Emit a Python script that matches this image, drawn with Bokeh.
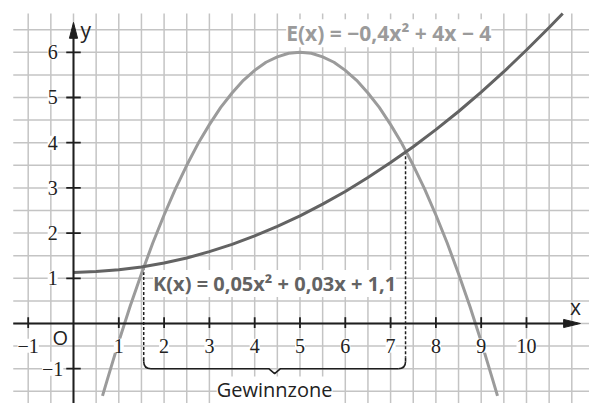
import numpy as np
from bokeh.plotting import figure
from bokeh.models import ColumnDataSource, LabelSet, Label
from bokeh.embed import file_html
from bokeh.resources import INLINE

# ---- data ----
E_X = [0.64, 0.75, 1.0, 1.25, 1.5, 1.75, 2.0, 2.25, 2.5, 2.75, 3.0, 3.25, 3.5, 3.75, 4.0, 4.25, 4.5, 4.75,
       5.0, 5.25, 5.5, 5.75, 6.0, 6.25, 6.5, 6.75, 7.0, 7.25, 7.5, 7.75, 8.0, 8.25, 8.5, 8.75, 9.0, 9.25, 9.36]
E_Y = [-1.60, -1.23, -0.40, 0.38, 1.10, 1.78, 2.40, 2.98, 3.50, 3.98, 4.40, 4.78, 5.10, 5.38, 5.60, 5.78, 5.90, 5.98,
       6.00, 5.98, 5.90, 5.78, 5.60, 5.38, 5.10, 4.78, 4.40, 3.98, 3.50, 2.98, 2.40, 1.78, 1.10, 0.38, -0.40, -1.23, -1.60]
K_X = [0.0, 0.5, 1.0, 1.5, 2.0, 2.5, 3.0, 3.5, 4.0, 4.5, 5.0, 5.5, 6.0, 6.5, 7.0, 7.5, 8.0, 8.5, 9.0, 9.5, 10.0, 10.5, 10.8]
K_Y = [1.13, 1.15, 1.19, 1.25, 1.34, 1.45, 1.59, 1.75, 1.94, 2.15, 2.38, 2.64, 2.92, 3.23, 3.56, 3.91, 4.29, 4.69, 5.12, 5.57, 6.05, 6.55, 6.86]
BREAK_X = [1.55, 7.33]
BREAK_Y = [1.25, 3.81]
X_TICKS = [-1, 1, 2, 3, 4, 5, 6, 7, 8, 9, 10]
X_LABELS = ["\u22121", "1", "2", "3", "4", "5", "6", "7", "8", "9", "10"]
Y_TICKS = [-1, 1, 2, 3, 4, 5, 6]
Y_LABELS = ["\u22121", "1", "2", "3", "4", "5", "6"]
E_TEXT = "E(x) = \u22120,4x\u00b2 + 4x \u2212 4"
K_TEXT = "K(x) = 0,05x\u00b2 + 0,03x + 1,1"
ZONE_TEXT = "Gewinnzone"

FONT = "Open Sans"
GRID_C = "#c4c4c4"
AXIS_C = "#1e1e1e"
E_C = "#9b9b9b"
K_C = "#636363"

p = figure(width=589, height=403, x_range=(-1.6115, 11.391), y_range=(-1.770, 7.146),
           output_backend="svg", toolbar_location=None, x_axis_type=None, y_axis_type=None,
           min_border=0, outline_line_color=None, background_fill_color="white")
p.grid.visible = False

# grid (0.5 units)
gx = np.arange(-1.0, 11.01, 0.5)
gy = np.arange(-1.5, 6.51, 0.5)
p.segment(x0=gx, y0=-1.8, x1=gx, y1=6.86, line_color=GRID_C, line_width=1.5)
p.segment(x0=-1.33, y0=gy, x1=11.4, y1=gy, line_color=GRID_C, line_width=1.5)

# dashed verticals to bracket
p.segment(x0=BREAK_X, y0=BREAK_Y, x1=BREAK_X, y1=-0.76, line_color=AXIS_C,
          line_width=1.5, line_dash="3 2")

# bracket
xl, xr = BREAK_X
xm = (xl + xr) / 2
yb = -1.0
r = 0.16
p.segment(x0=[xl, xr], y0=[-0.76, -0.76], x1=[xl, xr], y1=[yb + r, yb + r], line_color=AXIS_C, line_width=1.6)
p.quadratic(x0=[xl, xr], y0=[yb + r, yb + r], x1=[xl + r, xr - r], y1=[yb, yb],
            cx=[xl, xr], cy=[yb, yb], line_color=AXIS_C, line_width=1.6)
p.line(x=[xl + r, xm - 0.13, xm, xm + 0.13, xr - r], y=[yb, yb, yb - 0.11, yb, yb],
       line_color=AXIS_C, line_width=1.6)

# curves
p.line(x=E_X, y=E_Y, line_color=E_C, line_width=3)
p.line(x=K_X, y=K_Y, line_color=K_C, line_width=3)

# axes
p.segment(x0=-1.33, y0=0, x1=10.85, y1=0, line_color=AXIS_C, line_width=2)
p.segment(x0=0, y0=-1.8, x1=0, y1=6.35, line_color=AXIS_C, line_width=2)
p.patch(x=[10.82, 11.19, 10.82], y=[0.09, 0, -0.09], fill_color=AXIS_C, line_color=AXIS_C)
p.patch(x=[-0.09, 0, 0.09], y=[6.31, 6.66, 6.31], fill_color=AXIS_C, line_color=AXIS_C)

# ticks
p.segment(x0=X_TICKS, y0=-0.1, x1=X_TICKS, y1=0.14, line_color=AXIS_C, line_width=1.8)
p.segment(x0=-0.16, y0=Y_TICKS, x1=0.16, y1=Y_TICKS, line_color=AXIS_C, line_width=1.8)

# tick labels
xs = ColumnDataSource(dict(x=X_TICKS, y=[-0.49] * len(X_TICKS), t=X_LABELS))
ys = ColumnDataSource(dict(x=[-0.46] * len(Y_TICKS), y=Y_TICKS, t=Y_LABELS))
for src in (xs, ys):
    p.add_layout(LabelSet(x="x", y="y", text="t", source=src, text_align="center",
                          text_baseline="middle", text_font=FONT, text_font_size="20px",
                          text_color="#222222", background_fill_color="white"))

p.add_layout(Label(x=-0.29, y=-0.31, text="O", text_align="center", text_baseline="middle",
                   text_font=FONT, text_font_size="20px", text_color="#222222"))
p.add_layout(Label(x=11.08, y=0.36, text="x", text_align="center", text_baseline="middle",
                   text_font=FONT, text_font_size="21px", text_color="#222222"))
p.add_layout(Label(x=0.27, y=6.5, text="y", text_align="center", text_baseline="middle",
                   text_font=FONT, text_font_size="21px", text_color="#222222"))

p.add_layout(Label(x=6.96, y=6.42, text=E_TEXT, text_align="center", text_baseline="middle",
                   text_font=FONT, text_font_size="21px", text_font_style="bold",
                   text_color=E_C, background_fill_color="white"))
p.add_layout(Label(x=4.44, y=0.885, text=K_TEXT, text_align="center", text_baseline="middle",
                   text_font=FONT, text_font_size="20px", text_font_style="bold",
                   text_color=K_C, background_fill_color="white"))
p.add_layout(Label(x=xm, y=-1.47, text=ZONE_TEXT, text_align="center", text_baseline="middle",
                   text_font=FONT, text_font_size="20px", text_color="#222222",
                   background_fill_color="white"))

open("out.html", "w").write(file_html(p, INLINE))
